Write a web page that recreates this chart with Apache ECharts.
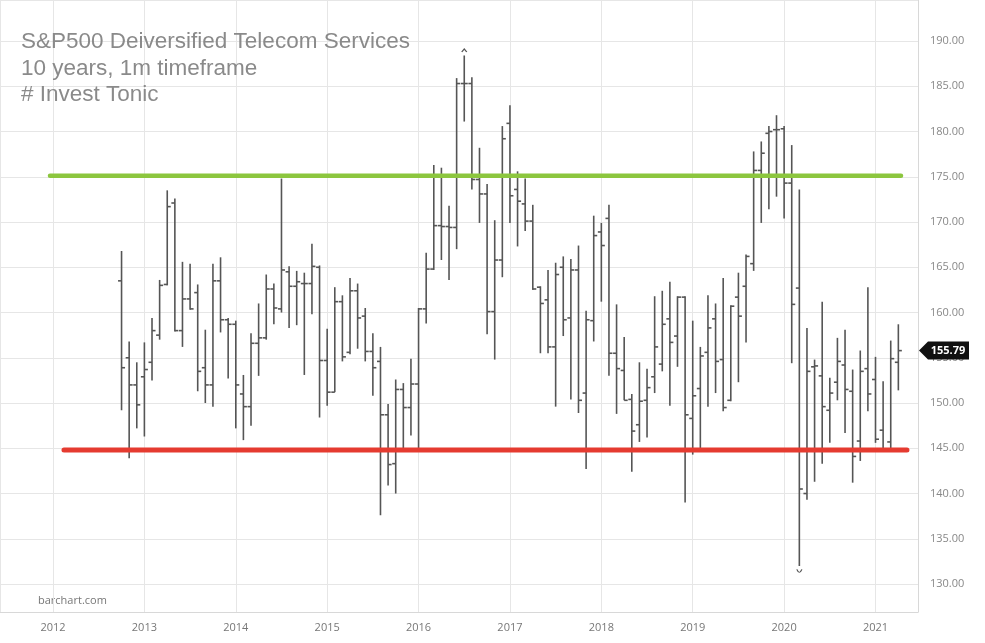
<!DOCTYPE html>
<html>
<head>
<meta charset="utf-8">
<script src="https://cdn.jsdelivr.net/npm/echarts@6/dist/echarts.min.js"></script>
<style>
html,body{margin:0;padding:0;background:#fff;}
#chart{width:985px;height:643px;}
</style>
</head>
<body>
<div id="chart"></div>
<script>
// ---- Data (monthly OHLC) ----
const months = ['2012-10','2012-11','2012-12',
'2013-01','2013-02','2013-03','2013-04','2013-05','2013-06','2013-07','2013-08','2013-09','2013-10','2013-11','2013-12',
'2014-01','2014-02','2014-03','2014-04','2014-05','2014-06','2014-07','2014-08','2014-09','2014-10','2014-11','2014-12',
'2015-01','2015-02','2015-03','2015-04','2015-05','2015-06','2015-07','2015-08','2015-09','2015-10','2015-11','2015-12',
'2016-01','2016-02','2016-03','2016-04','2016-05','2016-06','2016-07','2016-08','2016-09','2016-10','2016-11','2016-12',
'2017-01','2017-02','2017-03','2017-04','2017-05','2017-06','2017-07','2017-08','2017-09','2017-10','2017-11','2017-12',
'2018-01','2018-02','2018-03','2018-04','2018-05','2018-06','2018-07','2018-08','2018-09','2018-10','2018-11','2018-12',
'2019-01','2019-02','2019-03','2019-04','2019-05','2019-06','2019-07','2019-08','2019-09','2019-10','2019-11','2019-12',
'2020-01','2020-02','2020-03','2020-04','2020-05','2020-06','2020-07','2020-08','2020-09','2020-10','2020-11','2020-12',
'2021-01','2021-02','2021-03','2021-04'];

const openV = [163.5,155.0,152.0,
152.9,154.5,157.5,163.1,172.1,158.0,161.5,162.2,153.9,152.0,163.5,159.2,
158.7,151.0,149.6,156.6,157.2,162.6,160.4,164.5,162.9,163.2,163.2,165.0,
154.7,151.2,161.2,155.6,162.4,159.6,155.7,154.6,148.7,143.3,151.5,149.5,
152.1,160.4,164.8,169.6,169.5,169.4,185.3,185.3,174.7,173.1,160.1,165.8,
180.9,173.6,172.0,170.1,162.8,161.4,156.2,165.0,159.4,164.7,151.1,159.1,
168.9,170.4,155.5,153.6,150.4,147.6,150.3,152.9,154.3,159.3,157.4,161.7,
148.3,151.6,155.6,159.3,154.8,150.3,161.7,162.9,165.4,175.7,179.8,180.2,
180.3,174.3,162.7,140.0,154.0,153.0,149.2,152.3,154.2,151.3,145.8,153.8,
152.6,147.0,145.7,154.5];

const highV = [166.8,156.8,154.5,
156.7,159.4,163.6,173.5,172.6,165.6,165.4,163.1,158.1,165.4,166.1,159.4,
159.1,153.1,157.7,161.0,164.2,163.2,174.8,165.1,164.6,164.4,167.6,165.2,
158.2,162.8,161.9,163.8,163.2,160.5,157.7,156.2,149.9,152.6,152.2,154.9,
160.5,166.6,176.3,176.0,171.8,185.9,188.4,186.0,178.2,174.2,170.2,180.6,
182.9,175.6,174.8,171.9,162.9,164.7,165.5,166.2,165.9,167.4,160.2,170.7,
169.9,171.9,160.9,157.3,151.0,154.5,153.8,161.8,162.4,163.4,161.8,161.8,
159.1,156.2,161.9,161.0,163.8,160.8,164.4,166.4,177.8,178.9,180.6,181.8,
180.6,178.5,173.6,158.3,154.8,161.2,152.8,157.2,158.1,153.7,155.8,162.8,
155.1,152.4,156.9,158.7];

const lowV = [149.2,143.9,147.2,
146.3,152.5,157.0,163.0,157.9,156.2,160.3,151.3,150.0,149.6,157.8,152.7,
147.2,145.9,147.5,153.0,157.0,158.7,160.0,158.3,158.6,153.1,159.8,148.4,
149.7,151.2,154.6,155.4,156.0,154.6,150.8,137.6,140.9,140.0,144.8,146.4,
144.6,158.8,164.7,165.8,163.6,167.0,181.1,173.6,169.9,157.6,154.8,163.9,
169.9,167.3,169.0,162.5,155.5,155.5,149.6,157.4,150.4,148.9,142.7,156.8,
161.2,153.0,148.8,150.3,142.4,145.7,146.2,151.1,153.5,149.7,154.0,139.0,
144.3,145.0,149.6,151.1,149.1,150.2,152.3,156.7,164.6,169.9,171.4,172.8,
170.4,154.4,132.0,139.3,141.3,143.3,145.6,150.3,146.7,141.2,143.6,149.1,
145.6,144.6,145.0,151.4];

const closeV = [153.9,152.0,149.8,
153.7,158.0,163.0,171.7,158.0,161.5,160.4,153.5,152.0,163.5,159.2,158.7,
152.0,149.6,156.6,157.2,162.6,160.5,164.7,162.9,163.4,163.2,165.1,154.7,
151.2,161.2,155.1,162.4,159.4,155.7,153.9,148.7,143.2,151.5,149.5,152.1,
160.4,164.8,169.6,169.5,169.4,185.3,185.3,174.7,173.1,160.1,165.8,179.2,
172.9,172.3,170.1,162.6,161.0,156.2,164.2,159.2,164.7,150.3,159.2,168.5,
167.4,155.5,153.8,150.3,146.9,150.2,151.7,156.2,158.7,156.7,161.7,148.7,
150.8,155.2,158.3,154.6,149.5,160.7,159.6,166.2,175.7,177.6,180.0,180.2,
174.3,160.9,140.5,153.5,154.1,149.6,151.1,154.6,151.5,144.1,153.5,151.0,
146.0,144.9,154.9,155.79];

// horizontal trend lines: [startYear, endYear], level
const resistanceX = [2011.967, 2021.279];
const resistanceLevel = 175.1;
const supportX = [2012.12, 2021.344];
const supportLevel = 144.8;

const yearTicks = [2012,2013,2014,2015,2016,2017,2018,2019,2020,2021];
const lastPrice = 155.79;
const titleLines = ['S&P500 Deiversified Telecom Services', '10 years, 1m timeframe', '# Invest Tonic'];
const sourceText = 'barchart.com';

// ---- Build ----
function monthToX(m) {
  const [y, mo] = m.split('-').map(Number);
  return y + (mo - 1) / 12;
}
const ohlc = months.map((m, i) => [monthToX(m), openV[i], highV[i], lowV[i], closeV[i]]);

const X_MIN = 2011.42, X_MAX = 2021.465;
const Y_MIN = 126.91, Y_MAX = 194.53;

let hiIdx = 0, loIdx = 0;
highV.forEach((v, i) => { if (v > highV[hiIdx]) hiIdx = i; });
lowV.forEach((v, i) => { if (v < lowV[loIdx]) loIdx = i; });

const BAR_COLOR = '#555';
function renderItem(params, api) {
  const x = api.value(0);
  const pO = api.coord([x, api.value(1)]);
  const pH = api.coord([x, api.value(2)]);
  const pL = api.coord([x, api.value(3)]);
  const pC = api.coord([x, api.value(4)]);
  const t = 3.5;
  const style = { stroke: BAR_COLOR, lineWidth: 1.6 };
  return {
    type: 'group',
    children: [
      { type: 'line', shape: { x1: pH[0], y1: pH[1], x2: pL[0], y2: pL[1] }, style: style },
      { type: 'line', shape: { x1: pO[0] - t, y1: pO[1], x2: pO[0], y2: pO[1] }, style: style },
      { type: 'line', shape: { x1: pC[0], y1: pC[1], x2: pC[0] + t, y2: pC[1] }, style: style }
    ]
  };
}

const chart = echarts.init(document.getElementById('chart'), null, { renderer: 'canvas' });
chart.setOption({
  animation: false,
  backgroundColor: '#fff',
  title: {
    text: titleLines.join('\n'),
    left: 21, top: 29, padding: 0,
    textStyle: { fontFamily: 'Liberation Sans', fontSize: 22.5, fontWeight: 'normal', color: '#8a8a8a', lineHeight: 26.3 }
  },
  graphic: [{
    type: 'text', left: 38, top: 595,
    style: { text: sourceText, font: '11px "Open Sans"', fill: '#777' }
  }],
  grid: { left: 0, right: 67, top: 0, bottom: 31 },
  xAxis: {
    type: 'value', min: X_MIN, max: X_MAX,
    minInterval: 1, maxInterval: 1, splitNumber: 10,
    axisLine: { show: true, lineStyle: { color: '#d8d8d8' } },
    axisTick: { show: false },
    axisLabel: {
      showMinLabel: false, showMaxLabel: false, margin: 10,
      color: '#777', fontSize: 11, fontFamily: 'Open Sans',
      formatter: v => yearTicks.indexOf(Math.round(v * 1000) / 1000) >= 0 ? String(Math.round(v)) : ''
    },
    splitLine: { show: true, lineStyle: { color: '#e6e6e6', width: 1 } }
  },
  yAxis: {
    type: 'value', position: 'right', min: Y_MIN, max: Y_MAX,
    minInterval: 5, maxInterval: 5, splitNumber: 14,
    axisLine: { show: true, lineStyle: { color: '#d8d8d8' } },
    axisTick: { show: false },
    axisLabel: {
      showMinLabel: false, showMaxLabel: false, margin: 12,
      color: '#888', fontSize: 11, fontFamily: 'Open Sans',
      formatter: v => (Math.abs(v / 5 - Math.round(v / 5)) < 1e-6) ? v.toFixed(2) : ''
    },
    splitLine: { show: true, lineStyle: { color: '#e6e6e6', width: 1 } }
  },
  series: [
    {
      type: 'custom', name: 'OHLC', renderItem: renderItem, clip: false, z: 2,
      encode: { x: 0, y: [1, 2, 3, 4] },
      data: ohlc,
      markPoint: {
        silent: true,
        data: [
          {
            coord: [ohlc[hiIdx][0], highV[hiIdx]], symbol: 'path://M0,4 L3,0 L6,4',
            symbolSize: [5, 3], symbolOffset: [0, -5],
            itemStyle: { color: 'rgba(0,0,0,0)', borderColor: '#555', borderWidth: 1 }, label: { show: false }
          },
          {
            coord: [ohlc[loIdx][0], lowV[loIdx]], symbol: 'path://M0,0 Q3,5 6,0',
            symbolSize: [5, 3], symbolOffset: [0, 5],
            itemStyle: { color: 'rgba(0,0,0,0)', borderColor: '#555', borderWidth: 1 }, label: { show: false }
          },
          {
            coord: [X_MAX, lastPrice], symbol: 'path://M0,9 L9,0 L50,0 L50,18 L9,18 Z',
            symbolSize: [50, 18], symbolOffset: [26, 0],
            itemStyle: { color: '#111' },
            label: { show: true, position: 'inside', offset: [4, 0], formatter: lastPrice.toFixed(2),
              color: '#fff', fontWeight: 'bold', fontSize: 11, fontFamily: 'Open Sans' }
          }
        ]
      }
    },
    {
      type: 'line', name: 'resistance', symbol: 'none', silent: true, z: 3,
      data: [[resistanceX[0], resistanceLevel], [resistanceX[1], resistanceLevel]],
      lineStyle: { color: '#8cc63e', width: 4.5, cap: 'round' }
    },
    {
      type: 'line', name: 'support', symbol: 'none', silent: true, z: 3,
      data: [[supportX[0], supportLevel], [supportX[1], supportLevel]],
      lineStyle: { color: '#e53b30', width: 5, cap: 'round' }
    }
  ]
});
</script>
</body>
</html>
